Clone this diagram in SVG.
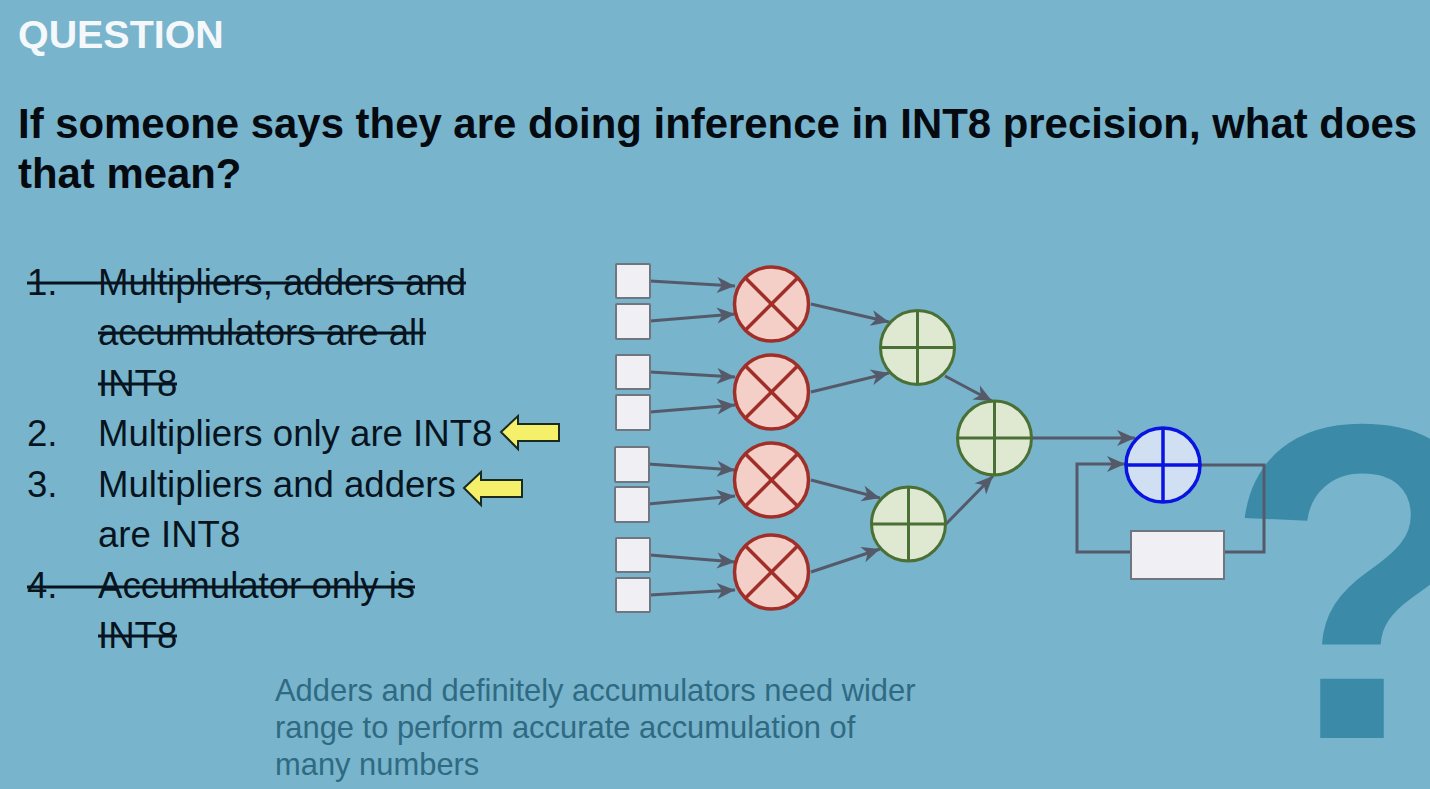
<svg xmlns="http://www.w3.org/2000/svg" width="1430" height="789" viewBox="0 0 1430 789">
<style>
text{font-family:"Liberation Sans",Arial,sans-serif}
.q{font-size:41.9px;font-weight:bold;fill:#050a10}
.b{font-size:36.6px;fill:#071420}
.s{stroke:#071420;stroke-width:3;fill:none}
.n{font-size:30.9px;fill:#2f6a82}
.box{fill:#f0f0f4;stroke:#6f7680;stroke-width:2}
.c{fill:none;stroke:#555a6a;stroke-width:3}
.m{fill:#f3cfc8;stroke:#9f2f28;stroke-width:3.5}
.a{fill:#dfe9d2;stroke:#4a7035;stroke-width:3}
.u{fill:#d0e0f2;stroke:#0a14e0;stroke-width:3.5}
.y{fill:#f5f06a;stroke:#1a2a20;stroke-width:2}
</style>
<defs>
<marker id="ah" markerUnits="userSpaceOnUse" markerWidth="22" markerHeight="18" refX="20" refY="9" orient="auto"><path d="M2 1L20 9L2 17L7 9Z" fill="#555a6a"/></marker>
<g id="mul"><circle r="37"/><line x1="-26" y1="-26" x2="26" y2="26"/><line x1="-26" y1="26" x2="26" y2="-26"/></g>
<g id="add"><circle r="37"/><line x1="-37" x2="37"/><line y1="-37" y2="37"/></g>
</defs>
<rect width="1430" height="789" fill="#78b4cc"/>
<text id="bigq" x="1224" y="738" fill="#3b8ba8" style="font-size:450px;font-weight:bold">?</text>
<text x="18" y="48" style="font-size:39.4px;font-weight:bold" fill="#f4f8fa">QUESTION</text>
<text class="q" x="18" y="138">If someone says they are doing inference in INT8 precision, what does</text>
<text class="q" x="18" y="188">that mean?</text>
<g id="list">
<text class="b" x="27" y="295">1.</text><text class="b" x="98" y="295">Multipliers, adders and</text>
<line class="s" x1="27" y1="283" x2="466" y2="283"/>
<text class="b" x="98" y="345">accumulators are all</text><line class="s" x1="98" y1="333" x2="426" y2="333"/>
<text class="b" x="98" y="396">INT8</text><line class="s" x1="98" y1="384" x2="177" y2="384"/>
<text class="b" x="27" y="446">2.</text><text class="b" x="98" y="446">Multipliers only are INT8</text>
<text class="b" x="27" y="497">3.</text><text class="b" x="98" y="497">Multipliers and adders</text>
<text class="b" x="98" y="547">are INT8</text>
<text class="b" x="27" y="598">4.</text><text class="b" x="98" y="598">Accumulator only is</text>
<line class="s" x1="27" y1="587" x2="415" y2="587"/>
<text class="b" x="98" y="648">INT8</text><line class="s" x1="98" y1="636" x2="177" y2="636"/>
</g>
<path id="arrow1" class="y" d="M501 432L518 416V424H559V441H518V449Z"/>
<path id="arrow2" class="y" d="M464 488L481 472V480H522V497H481V505Z"/>
<text class="n" x="275" y="701">Adders and definitely accumulators need wider</text>
<text class="n" x="275" y="738">range to perform accurate accumulation of</text>
<text class="n" x="275" y="775">many numbers</text>
<g id="connectors">
<line class="c" x1="650" y1="281" x2="735" y2="286" marker-end="url(#ah)"/>
<line class="c" x1="650" y1="321" x2="735" y2="314" marker-end="url(#ah)"/>
<line class="c" x1="650" y1="372" x2="735" y2="377" marker-end="url(#ah)"/>
<line class="c" x1="650" y1="412" x2="735" y2="405" marker-end="url(#ah)"/>
<line class="c" x1="648" y1="464" x2="735" y2="470" marker-end="url(#ah)"/>
<line class="c" x1="648" y1="504" x2="735" y2="496" marker-end="url(#ah)"/>
<line class="c" x1="650" y1="555" x2="735" y2="562" marker-end="url(#ah)"/>
<line class="c" x1="650" y1="595" x2="735" y2="590" marker-end="url(#ah)"/>
<line class="c" x1="811" y1="304" x2="889" y2="322" marker-end="url(#ah)"/>
<line class="c" x1="811" y1="392" x2="889" y2="373" marker-end="url(#ah)"/>
<line class="c" x1="811" y1="480" x2="880" y2="498" marker-end="url(#ah)"/>
<line class="c" x1="811" y1="572" x2="880" y2="549" marker-end="url(#ah)"/>
<line class="c" x1="945" y1="376" x2="992" y2="401" marker-end="url(#ah)"/>
<line class="c" x1="946" y1="524" x2="993" y2="476" marker-end="url(#ah)"/>
<line class="c" x1="1032" y1="438" x2="1135" y2="438" marker-end="url(#ah)"/>
<path class="c" d="M1201 465H1264V552H1225M1131 552H1077V464H1125" marker-end="url(#ah)"/>
</g>
<g id="in1"><rect class="box" x="616" y="264" width="34" height="34" rx="1"/></g>
<g id="in2"><rect class="box" x="616" y="304" width="34" height="35" rx="1"/></g>
<g id="in3"><rect class="box" x="616" y="355" width="34" height="34" rx="1"/></g>
<g id="in4"><rect class="box" x="616" y="395" width="34" height="35" rx="1"/></g>
<g id="in5"><rect class="box" x="615" y="447" width="34" height="35" rx="1"/></g>
<g id="in6"><rect class="box" x="615" y="487" width="34" height="35" rx="1"/></g>
<g id="in7"><rect class="box" x="616" y="538" width="34" height="34" rx="1"/></g>
<g id="in8"><rect class="box" x="616" y="578" width="34" height="34" rx="1"/></g>
<g id="m1" class="m"><use href="#mul" x="771.500" y="304"/></g>
<g id="m2" class="m"><use href="#mul" x="771.500" y="392"/></g>
<g id="m3" class="m"><use href="#mul" x="771.500" y="480"/></g>
<g id="m4" class="m"><use href="#mul" x="771.500" y="572"/></g>
<g id="a1" class="a"><use href="#add" x="917.500" y="347.500"/></g>
<g id="a2" class="a"><use href="#add" x="908.500" y="524"/></g>
<g id="a3" class="a"><use href="#add" x="994.500" y="438"/></g>
<g id="a4" class="u"><use href="#add" x="1163" y="465"/></g>
<g id="reg"><rect class="box" x="1131" y="531" width="93" height="48"/></g>
</svg>
